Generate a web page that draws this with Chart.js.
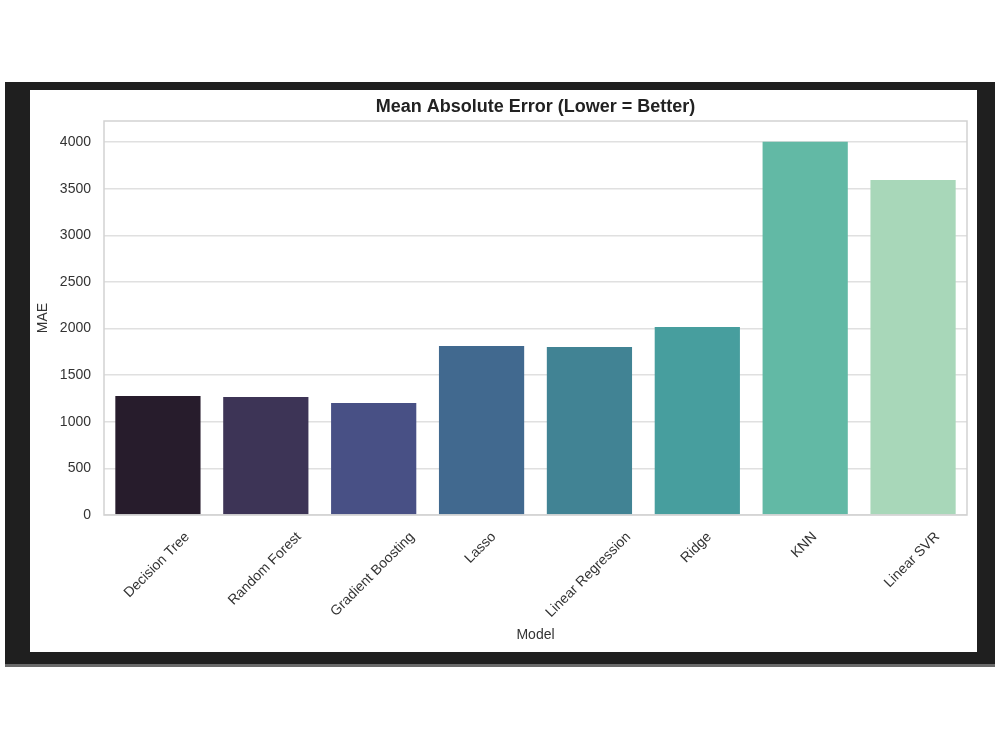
<!DOCTYPE html>
<html>
<head>
<meta charset="utf-8">
<script src="https://cdn.jsdelivr.net/npm/chart.js@4.4.1/dist/chart.umd.min.js"></script>
<style>
  html, body { margin: 0; padding: 0; background: #ffffff; }
  body { width: 1000px; height: 750px; position: relative; overflow: hidden; }
  #frame {
    position: absolute; left: 5px; top: 82px; width: 990px; height: 582px;
    background: #1f1f1f; border-bottom: 3px solid #6a6a6a;
  }
  #panel {
    position: absolute; left: 30px; top: 90px; width: 947px; height: 562px;
    background: #ffffff;
  }
</style>
</head>
<body>
<div id="frame"></div>
<div id="panel"><canvas id="maeChart"></canvas></div>
<script>
const models = ['Decision Tree', 'Random Forest', 'Gradient Boosting', 'Lasso',
                'Linear Regression', 'Ridge', 'KNN', 'Linear SVR'];
const maeValues = [1277, 1266, 1202, 1813, 1803, 2017, 4005, 3594];
const barColors = ['#271c2c', '#3d3456', '#485085', '#41698f',
                   '#418394', '#479e9e', '#62b9a5', '#a8d7b9'];
const yTicks = [0, 500, 1000, 1500, 2000, 2500, 3000, 3500, 4000];
const yMax = 4227;
const chartTitle = 'Mean Absolute Error (Lower = Better)';

const FONT = '"Liberation Sans", Arial, sans-serif';

// title centred over the axes, spines, and matplotlib-style rotated x labels
const axisDecor = {
    id: 'axisDecor',
    afterDraw(chart) {
        const { ctx, chartArea: a, scales: { x } } = chart;
        ctx.save();
        ctx.strokeStyle = '#d2d2d2';
        ctx.lineWidth = 1.5;
        ctx.strokeRect(a.left, a.top, a.right - a.left, a.bottom - a.top);

        ctx.textAlign = 'center';
        ctx.textBaseline = 'middle';
        ctx.fillStyle = '#222222';
        ctx.font = 'bold 18px ' + FONT;
        ctx.fillText(chartTitle, (a.left + a.right) / 2, a.top - 14);

        ctx.font = '14px ' + FONT;
        ctx.fillStyle = '#333333';
        const top = a.bottom + 14;
        models.forEach((label, i) => {
            const w = ctx.measureText(label).width;
            const cx = x.getPixelForValue(i) - 1;
            const cy = top + (w + 16) * Math.SQRT1_2 / 2;
            ctx.save();
            ctx.translate(cx, cy);
            ctx.rotate(-Math.PI / 4);
            ctx.fillText(label, 0, 0);
            ctx.restore();
        });
        ctx.restore();
    }
};

function createMaeChart() {
    const ctx = document.getElementById('maeChart');
    new Chart(ctx, {
        type: 'bar',
        data: {
            labels: models,
            datasets: [{
                label: 'MAE',
                data: maeValues,
                backgroundColor: barColors,
                borderWidth: 0,
                barPercentage: 0.79,
                categoryPercentage: 1.0
            }]
        },
        options: {
            responsive: true,
            maintainAspectRatio: false,
            animation: false,
            layout: { padding: { left: 0, right: 10, top: 31, bottom: 0 } },
            plugins: {
                legend: { display: false },
                tooltip: { enabled: false },
                title: { display: false }
            },
            scales: {
                x: {
                    grid: { display: false },
                    border: { display: false },
                    ticks: { display: false },
                    afterFit: s => { s.height = 137; },
                    title: {
                        display: true,
                        text: 'Model',
                        color: '#333333',
                        font: { family: FONT, size: 14 },
                        padding: { top: 0, bottom: 8 }
                    }
                },
                y: {
                    min: 0,
                    max: yMax,
                    afterFit: s => { s.width = 74; },
                    afterBuildTicks: s => { s.ticks = yTicks.map(v => ({ value: v })); },
                    border: { display: false },
                    grid: { color: '#e0e0e0', lineWidth: 1.5, drawTicks: false },
                    ticks: {
                        padding: 13,
                        color: '#333333',
                        font: { family: FONT, size: 14 },
                        callback: v => v
                    },
                    title: {
                        display: true,
                        text: 'MAE',
                        color: '#333333',
                        font: { family: FONT, size: 14 },
                        padding: { top: 5, bottom: 0 }
                    }
                }
            }
        },
        plugins: [axisDecor]
    });
}

document.addEventListener('DOMContentLoaded', () => {
    createMaeChart();
});
</script>
</body>
</html>
